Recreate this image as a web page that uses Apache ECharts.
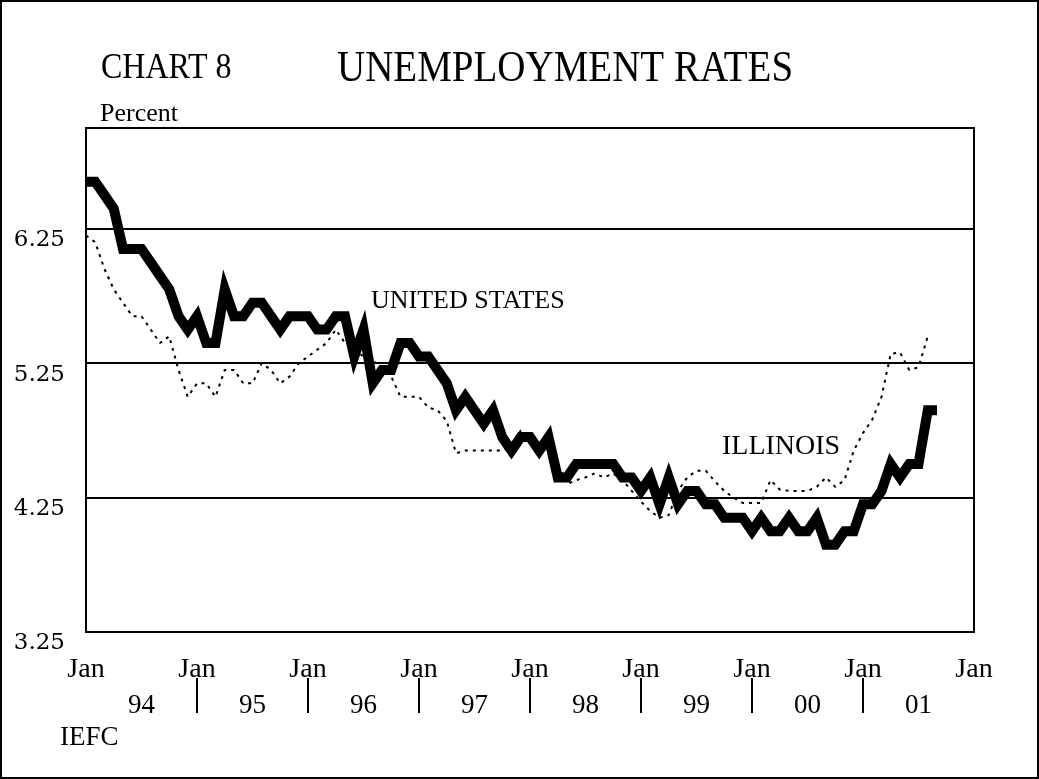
<!DOCTYPE html>
<html>
<head>
<meta charset="utf-8">
<script src="https://cdn.jsdelivr.net/npm/echarts@6/dist/echarts.min.js"></script>
<style>
  html, body { margin: 0; padding: 0; background: #fff; }
  #chart { width: 1039px; height: 779px; }
</style>
</head>
<body>
<div id="chart"></div>
<script>
// month categories Jan 94 .. Jan 02
const yearLabels = ["94", "95", "96", "97", "98", "99", "00", "01"];
const monthNames = ["Jan", "Feb", "Mar", "Apr", "May", "Jun", "Jul", "Aug", "Sep", "Oct", "Nov", "Dec"];
const months = [];
yearLabels.forEach((y) => monthNames.forEach((m) => months.push(m + " " + y)));
months.push("Jan 02");

// y axis labels / grid lines
const yTicks = [3.25, 4.25, 5.25, 6.25];

// United States, Jan 94 - Sep 01
const usRate = [
  6.6, 6.6, 6.5, 6.4, 6.1, 6.1, 6.1, 6.0, 5.9, 5.8, 5.6, 5.5,
  5.6, 5.4, 5.4, 5.8, 5.6, 5.6, 5.7, 5.7, 5.6, 5.5, 5.6, 5.6,
  5.6, 5.5, 5.5, 5.6, 5.6, 5.3, 5.5, 5.1, 5.2, 5.2, 5.4, 5.4,
  5.3, 5.3, 5.2, 5.1, 4.9, 5.0, 4.9, 4.8, 4.9, 4.7, 4.6, 4.7,
  4.7, 4.6, 4.7, 4.4, 4.4, 4.5, 4.5, 4.5, 4.5, 4.5, 4.4, 4.4,
  4.3, 4.4, 4.2, 4.4, 4.2, 4.3, 4.3, 4.2, 4.2, 4.1, 4.1, 4.1,
  4.0, 4.1, 4.0, 4.0, 4.1, 4.0, 4.0, 4.1, 3.9, 3.9, 4.0, 4.0,
  4.2, 4.2, 4.3, 4.5, 4.4, 4.5, 4.5, 4.9, 4.9,
];

// Illinois, Jan 94 - Aug 01
const ilRate = [
  6.2, 6.15, 5.95, 5.8, 5.7, 5.6, 5.6, 5.5, 5.4, 5.45, 5.2, 5.0,
  5.1, 5.1, 5.0, 5.2, 5.2, 5.1, 5.1, 5.25, 5.2, 5.1, 5.15, 5.25,
  5.3, 5.35, 5.4, 5.5, 5.4, 5.35, 5.3, 5.27, 5.22, 5.15, 5.0, 5.0,
  5.0, 4.92, 4.9, 4.82, 4.58, 4.6, 4.6, 4.6, 4.6, 4.6, 4.62, 4.75,
  4.7, 4.65, 4.63, 4.5, 4.35, 4.38, 4.4, 4.43, 4.4, 4.43, 4.38, 4.3,
  4.22, 4.15, 4.1, 4.12, 4.3, 4.4, 4.45, 4.45, 4.37, 4.3, 4.25, 4.21,
  4.21, 4.21, 4.38, 4.31, 4.3, 4.3, 4.3, 4.33, 4.4, 4.33, 4.38, 4.6,
  4.73, 4.83, 5.0, 5.32, 5.33, 5.2, 5.22, 5.45,
];

const serif = "Liberation Serif";

const text = (str, x, y, size, opts = {}) => ({
  type: "text",
  x: x,
  y: y,
  scaleY: opts.scaleY || 1,
  style: {
    text: str,
    x: 0,
    y: 0,
    fill: "#000",
    font: size + "px '" + serif + "'",
    textAlign: opts.align || "left",
    textVerticalAlign: "middle",
  },
});

const chart = echarts.init(document.getElementById("chart"));

const option = {
  animation: false,
  backgroundColor: "#fff",
  graphic: [
    {
      type: "rect",
      shape: { x: 1, y: 1, width: 1037, height: 777 },
      style: { fill: "none", stroke: "#000", lineWidth: 2 },
    },
    text("CHART 8", 101, 68, 32, { scaleY: 1.15 }),
    text("UNEMPLOYMENT RATES", 337, 70, 39, { scaleY: 1.12 }),
    text("Percent", 100, 114, 26),
    text("UNITED STATES", 371, 301, 26),
    text("ILLINOIS", 722, 447, 28),
    text("IEFC", 60, 738, 27),
  ],
  grid: {
    left: 86,
    right: 65,
    top: 128,
    bottom: 147,
    show: true,
    borderColor: "#000",
    borderWidth: 2,
    backgroundColor: "transparent",
  },
  xAxis: [
    {
      type: "category",
      data: months,
      boundaryGap: false,
      axisLine: { show: false },
      axisTick: { show: false },
      splitLine: { show: false },
      axisLabel: {
        interval: (i) => i % 12 === 0,
        formatter: () => "Jan",
        fontFamily: serif,
        fontSize: 28,
        color: "#000",
        margin: 24,
      },
    },
    {
      type: "category",
      data: months,
      boundaryGap: false,
      position: "bottom",
      offset: 46,
      axisLine: { show: false },
      axisTick: {
        show: true,
        interval: (i) => i % 12 === 0 && i > 0 && i < 96,
        length: 35,
        lineStyle: { color: "#000", width: 2 },
      },
      splitLine: { show: false },
      axisLabel: {
        interval: (i) => i % 12 === 6,
        formatter: (v, i) => yearLabels[Math.floor(i / 12)],
        fontFamily: serif,
        fontSize: 27,
        color: "#000",
        margin: 14,
      },
    },
  ],
  yAxis: {
    type: "value",
    min: 3.25,
    max: 7,
    interval: 0.25,
    axisLine: { show: false },
    axisTick: { show: false },
    splitLine: { show: false },
    axisLabel: {
      formatter: (v) =>
        yTicks.includes(Math.round(v * 100) / 100) ? v.toFixed(2) : "",
      fontFamily: "DejaVu Serif",
      fontSize: 23,
      color: "#000",
      margin: 21,
      verticalAlign: "top",
    },
  },
  series: [
    {
      name: "ILLINOIS",
      type: "line",
      data: ilRate,
      symbol: "none",
      lineStyle: { color: "#000", width: 2, type: [3, 5] },
      z: 2,
      markLine: {
        silent: true,
        symbol: "none",
        label: { show: false },
        lineStyle: { color: "#000", width: 2, type: "solid" },
        data: yTicks.slice(1).map((v) => ({ yAxis: v })),
      },
    },
    {
      name: "UNITED STATES",
      type: "line",
      data: usRate,
      symbol: "none",
      lineStyle: { color: "#000", width: 10, join: "miter", cap: "butt" },
      z: 3,
    },
  ],
};

chart.setOption(option);
</script>
</body>
</html>
